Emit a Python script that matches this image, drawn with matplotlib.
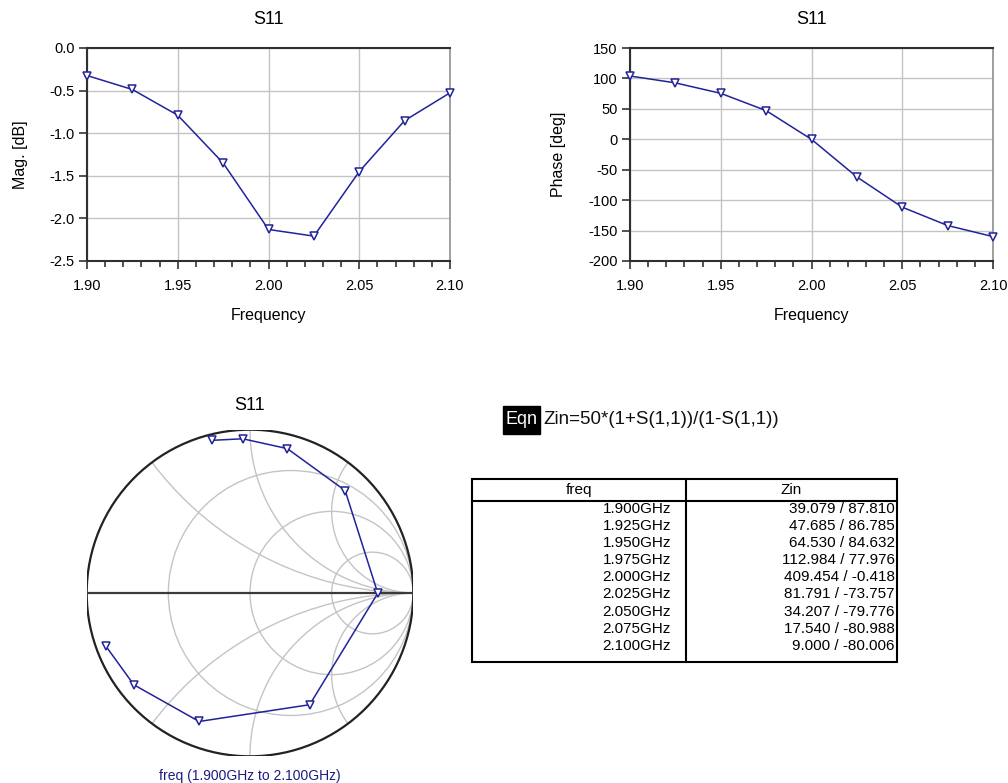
import numpy as np
import matplotlib
matplotlib.use("Agg")
import matplotlib.pyplot as plt
from matplotlib.patches import Circle, Rectangle

plt.rcParams["font.family"] = ["Liberation Sans", "DejaVu Sans"]
plt.rcParams["axes.unicode_minus"] = False

# S11 sweep, 1.9 - 2.1 GHz
freq = [1.900, 1.925, 1.950, 1.975, 2.000, 2.025, 2.050, 2.075, 2.100]
mag_db = [-0.323, -0.487, -0.789, -1.350, -2.130, -2.208, -1.450, -0.852, -0.526]
phase_deg = [104.0, 92.7, 75.5, 47.1, -0.1, -61.9, -111.6, -141.7, -159.9]

# Zin table (mag / angle)
freq_labels = ["1.900GHz", "1.925GHz", "1.950GHz", "1.975GHz", "2.000GHz",
               "2.025GHz", "2.050GHz", "2.075GHz", "2.100GHz"]
zin_labels = ["39.079 / 87.810", "47.685 / 86.785", "64.530 / 84.632",
              "112.984 / 77.976", "409.454 / -0.418", "81.791 / -73.757",
              "34.207 / -79.776", "17.540 / -80.988", "9.000 / -80.006"]

# smith grid
r_circles = [1 / 3, 1, 3]
x_arcs = [0.5, 1, 2]

W, H = 1008, 783
LINE = "#22229a"
GRID = "#c4c4c4"


def box(x0, y0, x1, y1):
    return [x0 / W, 1 - y1 / H, (x1 - x0) / W, (y1 - y0) / H]


def style(ax):
    ax.set_xlim(1.90, 2.10)
    ax.set_xticks(np.arange(1.90, 2.1001, 0.05))
    ax.set_xticks(np.arange(1.90, 2.1001, 0.01), minor=True)
    ax.xaxis.set_major_formatter(matplotlib.ticker.FormatStrFormatter("%.2f"))
    ax.tick_params(which="major", direction="out", length=6, width=1.2,
                   color="#333333", labelsize=10.5, pad=3)
    ax.tick_params(axis="x", which="major", pad=7)
    ax.tick_params(which="minor", direction="out", length=4, width=1.2,
                   color="#333333")
    ax.tick_params(axis="y", which="minor", left=False)
    ax.grid(True, which="major", color=GRID, lw=1.0)
    ax.set_axisbelow(True)
    for s in ["left", "bottom", "top"]:
        ax.spines[s].set_color("#303030")
        ax.spines[s].set_linewidth(1.5)
    ax.spines["right"].set_color("#909090")
    ax.spines["right"].set_linewidth(1.2)
    ax.set_title("S11", fontsize=13, pad=17)
    ax.set_xlabel("Frequency", fontsize=11.5, labelpad=11)


def trace(ax, x, y):
    ax.plot(x, y, color=LINE, lw=1.1, marker="v", ms=5.5, mfc="white",
            mec=LINE, mew=1.1, clip_on=False, zorder=5)


fig = plt.figure(figsize=(W / 100, H / 100), dpi=100)

# magnitude
ax1 = fig.add_axes(box(87, 48, 450, 261))
trace(ax1, freq, mag_db)
style(ax1)
ax1.set_ylim(-2.5, 0.0)
ax1.set_yticks(np.arange(-2.5, 0.01, 0.5))
ax1.yaxis.set_major_formatter(matplotlib.ticker.FormatStrFormatter("%.1f"))
ax1.set_ylabel("Mag. [dB]", fontsize=11.5, labelpad=15)

# phase
ax2 = fig.add_axes(box(630, 48, 993, 261))
trace(ax2, freq, phase_deg)
style(ax2)
ax2.set_ylim(-200, 150)
ax2.set_yticks(np.arange(-200, 151, 50))
ax2.set_ylabel("Phase [deg]", fontsize=11.5, labelpad=16)

# smith chart
cx, cy, R = 250, 593, 163.3
ax3 = fig.add_axes(box(cx - R, cy - R, cx + R, cy + R))
ax3.set_xlim(-1, 1)
ax3.set_ylim(-1, 1)
ax3.axis("off")
clip = Circle((0, 0), 1, transform=ax3.transData)
for r in r_circles:
    c = Circle((r / (1 + r), 0), 1 / (1 + r), fill=False, ec=GRID, lw=1.0)
    ax3.add_patch(c)
    c.set_clip_path(clip)
for xv in x_arcs:
    for sgn in (1, -1):
        c = Circle((1, sgn / xv), 1 / xv, fill=False, ec=GRID, lw=1.0)
        ax3.add_patch(c)
        c.set_clip_path(clip)
ax3.plot([-1, 1], [0, 0], color="#3a3a3a", lw=1.6)
ax3.add_patch(Circle((0, 0), 1, fill=False, ec="#222222", lw=1.6))
gamma = 10 ** (np.array(mag_db) / 20) * np.exp(1j * np.deg2rad(phase_deg))
ax3.plot(gamma.real, gamma.imag, color=LINE, lw=1.1, marker="v", ms=5.5,
         mfc="white", mec=LINE, mew=1.1, zorder=5)

fig.text(cx / W, 1 - 405 / H, "S11", ha="center", va="center", fontsize=13)
fig.text(cx / W, 1 - 776 / H, "freq (1.900GHz to 2.100GHz)", ha="center",
         va="center", fontsize=10, color="#1c1c80")

# equation + table drawn in pixel space
ov = fig.add_axes([0, 0, 1, 1], zorder=-1)
ov.set_xlim(0, W)
ov.set_ylim(H, 0)
ov.axis("off")

ov.add_patch(Rectangle((503, 406), 37, 28, color="black"))
ov.text(521.5, 420, "Eqn", color="white", ha="center", va="center", fontsize=13)
ov.text(543, 420, "Zin=50*(1+S(1,1))/(1-S(1,1))", ha="left", va="center",
        fontsize=13.5, color="#111111")

tl, tr, tt, tb, tm, th = 472, 897, 479, 662, 686, 501
ov.add_patch(Rectangle((tl, tt), tr - tl, tb - tt, fill=False, ec="black", lw=1.5))
ov.plot([tl, tr], [th, th], color="black", lw=1.5)
ov.plot([tm, tm], [tt, tb], color="black", lw=1.5)
ov.text((tl + tm) / 2, 490, "freq", ha="center", va="center", fontsize=11)
ov.text((tm + tr) / 2, 490, "Zin", ha="center", va="center", fontsize=11)
for i, (fl, zl) in enumerate(zip(freq_labels, zin_labels)):
    y = 509 + i * 17.09
    ov.text(tm - 15, y, fl, ha="right", va="center", fontsize=11)
    ov.text(tr - 2, y, zl, ha="right", va="center", fontsize=11)

fig.savefig("out.png", dpi=100, facecolor="white")
